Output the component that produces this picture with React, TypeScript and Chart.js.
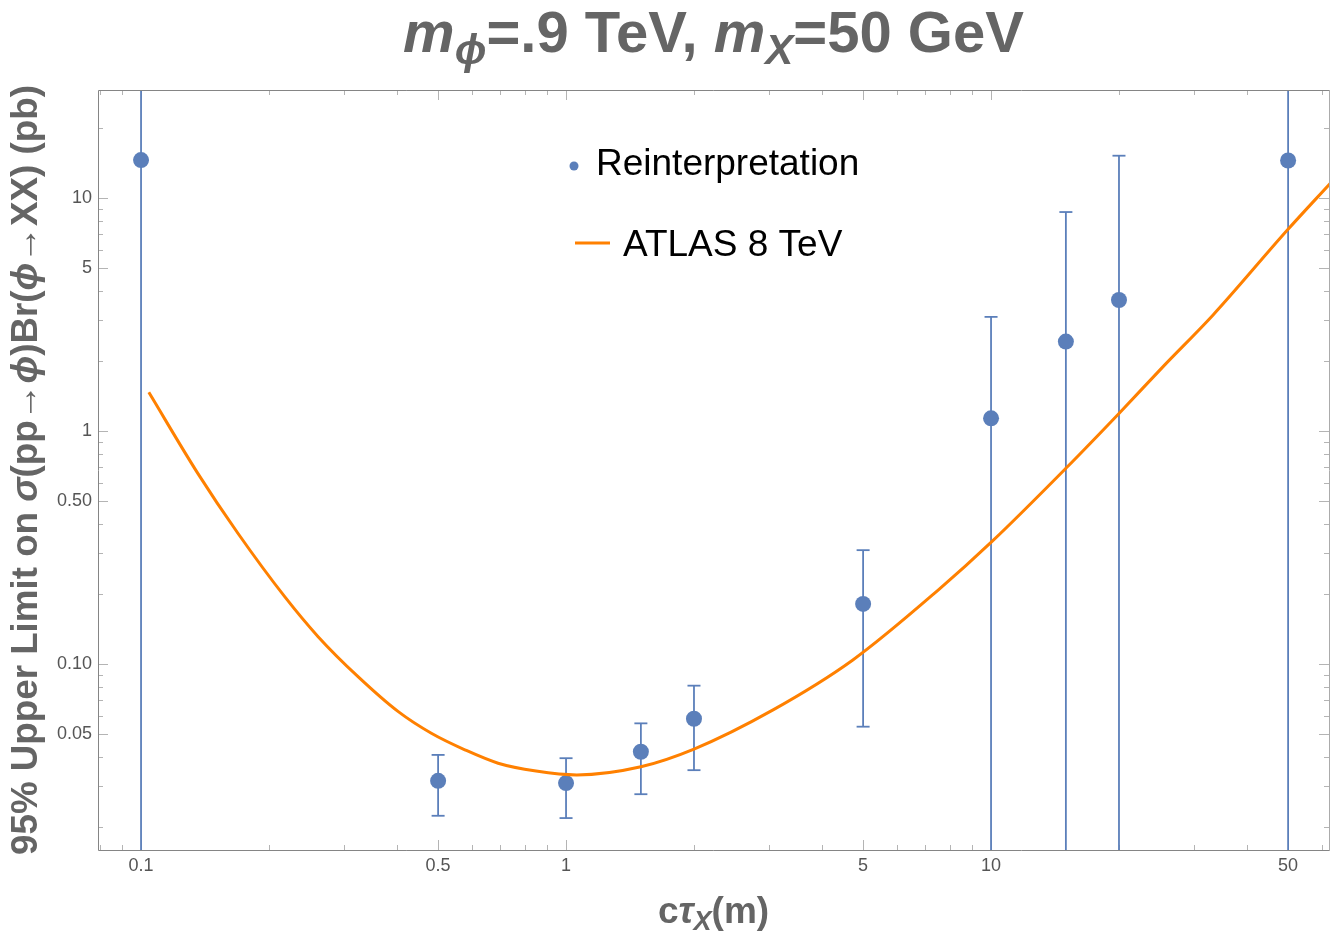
import React, { useEffect, useRef } from "react";
import { Chart, registerables } from "chart.js";

Chart.register(...registerables);

// Reinterpretation limits (pb) vs. proper decay length cτ (m)
const lifetimes = [0.1, 0.5, 1, 1.5, 2, 5, 10, 15, 20, 50];
const limits = [14.56, 0.0315, 0.0308, 0.042, 0.0582, 0.181, 1.134, 2.42, 3.65, 14.5];
const limitsUpper = [1000, 0.0407, 0.0394, 0.0556, 0.0807, 0.308, 3.09, 8.71, 15.2, 1000];
const limitsLower = [0.001, 0.0223, 0.0218, 0.0276, 0.035, 0.0538, 0.001, 0.001, 0.001, 0.001];

// ATLAS 8 TeV expected curve
const atlasLifetimes = [
  0.1043, 0.136, 0.169, 0.218, 0.261, 0.324, 0.403, 0.482, 0.578, 0.692, 0.85, 1.06, 1.5,
  2.0, 3.07, 4.73, 7.52, 10.04, 15.0, 20.0, 25.4, 33.3, 49.8, 62.8,
];
const atlasLimits = [
  1.466, 0.658, 0.364, 0.194, 0.131, 0.0882, 0.0624, 0.0504, 0.0428, 0.0375, 0.0347, 0.0334,
  0.0362, 0.0431, 0.0635, 0.104, 0.208, 0.335, 0.692, 1.19, 1.89, 3.15, 7.29, 11.56,
];

// Axis ranges and labelled ticks
const xMin = 0.0792;
const xMax = 62.4;
const yMin = 0.0159;
const yMax = 29.1;
const xMajorTicks = [0.1, 0.5, 1, 5, 10, 50];
const xMajorLabels = ["0.1", "0.5", "1", "5", "10", "50"];
const yMajorTicks = [0.05, 0.1, 0.5, 1, 5, 10];
const yMajorLabels = ["0.05", "0.10", "0.50", "1", "5", "10"];

const BLUE = "#5b7fba";
const ORANGE = "#ff8000";
const GRAY_TEXT = "#656565";
const FONT = '"Liberation Sans", Arial, Helvetica, sans-serif';

const near = (a: number, b: number) => Math.abs(Math.log10(a) - Math.log10(b)) < 1e-6;

function logTickValues(min: number, max: number, majors: number[]) {
  const out: number[] = [...majors];
  const e0 = Math.floor(Math.log10(min));
  const e1 = Math.ceil(Math.log10(max));
  for (let e = e0; e <= e1; e++) {
    for (let k = 1; k <= 9; k++) {
      const v = Number((k * Math.pow(10, e)).toPrecision(6));
      if (v >= min && v <= max && !out.some((m) => near(m, v))) out.push(v);
    }
  }
  return out.sort((a, b) => a - b);
}

function labelFor(value: number, majors: number[], labels: string[]) {
  const i = majors.findIndex((m) => near(m, value));
  return i >= 0 ? labels[i] : "";
}

type Seg = { t: string; italic?: boolean; sub?: boolean };

function segFont(s: Seg, size: number, bold: boolean) {
  const sz = s.sub ? Math.round(size * 0.72) : size;
  return `${s.italic ? "italic " : ""}${bold ? "bold " : ""}${sz}px ${FONT}`;
}

function richWidth(ctx: CanvasRenderingContext2D, segs: Seg[], size: number, bold: boolean) {
  let w = 0;
  for (const s of segs) {
    ctx.font = segFont(s, size, bold);
    w += ctx.measureText(s.t).width;
  }
  return w;
}

function drawRich(
  ctx: CanvasRenderingContext2D,
  segs: Seg[],
  x: number,
  y: number,
  size: number,
  color: string,
  bold: boolean,
) {
  const total = richWidth(ctx, segs, size, bold);
  let cx = x - total / 2;
  ctx.fillStyle = color;
  ctx.textBaseline = "alphabetic";
  ctx.textAlign = "left";
  for (const s of segs) {
    ctx.font = segFont(s, size, bold);
    ctx.fillText(s.t, cx, s.sub ? y + size * 0.2 : y);
    cx += ctx.measureText(s.t).width;
  }
}

const titleSegs: Seg[] = [
  { t: "m", italic: true },
  { t: "ϕ", italic: true, sub: true },
  { t: "=.9 TeV, " },
  { t: "m", italic: true },
  { t: "X", italic: true, sub: true },
  { t: "=50 GeV" },
];

const xTitleSegs: Seg[] = [
  { t: "c" },
  { t: "τ", italic: true },
  { t: "X", italic: true, sub: true },
  { t: "(m)" },
];

const yTitleSegs: Seg[] = [
  { t: "95% Upper Limit on " },
  { t: "σ", italic: true },
  { t: "(pp" },
  { t: "→" },
  { t: "ϕ", italic: true },
  { t: ")Br(" },
  { t: "ϕ", italic: true },
  { t: "→" },
  { t: "XX) (pb)" },
];

const decorPlugin = {
  id: "decor",
  beforeDatasetsDraw(chart: any) {
    const { ctx, chartArea: a, scales } = chart;
    const xs = scales.x;
    const ys = scales.y;
    ctx.save();

    // frame ticks on all four sides (beneath the data)
    ctx.strokeStyle = "#b4b4b4";
    ctx.lineWidth = 1;
    for (const t of xs.ticks) {
      const px = Math.round(xs.getPixelForValue(t.value)) + 0.5;
      const len = xMajorTicks.some((m) => near(m, t.value)) ? 10 : 5;
      ctx.beginPath();
      ctx.moveTo(px, a.bottom);
      ctx.lineTo(px, a.bottom - len);
      ctx.moveTo(px, a.top);
      ctx.lineTo(px, a.top + len);
      ctx.stroke();
    }
    for (const t of ys.ticks) {
      const py = Math.round(ys.getPixelForValue(t.value)) + 0.5;
      const len = yMajorTicks.some((m) => near(m, t.value)) ? 10 : 5;
      ctx.beginPath();
      ctx.moveTo(a.left, py);
      ctx.lineTo(a.left + len, py);
      ctx.moveTo(a.right, py);
      ctx.lineTo(a.right - len, py);
      ctx.stroke();
    }

    // error bars
    ctx.beginPath();
    ctx.rect(a.left, a.top, a.right - a.left, a.bottom - a.top);
    ctx.clip();
    ctx.strokeStyle = BLUE;
    ctx.lineWidth = 1.8;
    const cap = 6.5;
    lifetimes.forEach((lt, i) => {
      const px = xs.getPixelForValue(lt);
      const yHi = Math.max(ys.getPixelForValue(limitsUpper[i]), a.top - 2);
      const yLo = Math.min(ys.getPixelForValue(limitsLower[i]), a.bottom + 2);
      ctx.beginPath();
      ctx.moveTo(px, yHi);
      ctx.lineTo(px, yLo);
      ctx.stroke();
      for (const yy of [yHi, yLo]) {
        if (yy > a.top && yy < a.bottom) {
          ctx.beginPath();
          ctx.moveTo(px - cap, yy);
          ctx.lineTo(px + cap, yy);
          ctx.stroke();
        }
      }
    });
    ctx.restore();
  },
  afterDraw(chart: any) {
    const { ctx, chartArea: a } = chart;
    ctx.save();

    // frame
    ctx.lineWidth = 1;
    ctx.strokeStyle = "#858585";
    ctx.beginPath();
    ctx.moveTo(a.right, a.top + 0.5);
    ctx.lineTo(a.left + 0.5, a.top + 0.5);
    ctx.lineTo(a.left + 0.5, a.bottom + 0.5);
    ctx.lineTo(a.right, a.bottom + 0.5);
    ctx.stroke();
    ctx.strokeStyle = "#ababab";
    ctx.beginPath();
    ctx.moveTo(a.right + 0.5, a.top);
    ctx.lineTo(a.right + 0.5, a.bottom + 1);
    ctx.stroke();

    // title
    const cx = (a.left + a.right) / 2;
    drawRich(ctx, titleSegs, cx, 52, 58, GRAY_TEXT, true);

    // x-axis title
    drawRich(ctx, xTitleSegs, cx, 923, 37, GRAY_TEXT, true);

    // y-axis title, fitted to the frame height
    const targetLen = a.bottom - a.top + 10;
    const base = 37;
    const natural = richWidth(ctx, yTitleSegs, base, true);
    const ySize = (base * targetLen) / natural;
    ctx.save();
    ctx.translate(37, (a.top + a.bottom) / 2);
    ctx.rotate(-Math.PI / 2);
    drawRich(ctx, yTitleSegs, 0, 0, ySize, GRAY_TEXT, true);
    ctx.restore();

    // legend
    ctx.fillStyle = BLUE;
    ctx.beginPath();
    ctx.arc(574, 166, 4.5, 0, Math.PI * 2);
    ctx.fill();
    ctx.strokeStyle = ORANGE;
    ctx.lineWidth = 3;
    ctx.beginPath();
    ctx.moveTo(575, 243);
    ctx.lineTo(610, 243);
    ctx.stroke();
    ctx.fillStyle = "#000";
    ctx.font = `37px ${FONT}`;
    ctx.textAlign = "left";
    ctx.textBaseline = "alphabetic";
    ctx.fillText("Reinterpretation", 596, 175);
    ctx.fillText("ATLAS 8 TeV", 623, 256);

    ctx.restore();
  },
};

export default function App() {
  const ref = useRef<HTMLCanvasElement>(null);

  useEffect(() => {
    document.body.style.margin = "0";
    const canvas = ref.current;
    if (!canvas) return;

    const xTicks = logTickValues(xMin, xMax, xMajorTicks);
    const yTicks = logTickValues(yMin, yMax, yMajorTicks);

    const chart = new Chart(canvas, {
      type: "scatter",
      data: {
        datasets: [
          {
            label: "ATLAS 8 TeV",
            data: atlasLifetimes.map((x, i) => ({ x, y: atlasLimits[i] })),
            showLine: true,
            borderColor: ORANGE,
            backgroundColor: ORANGE,
            borderWidth: 3,
            pointRadius: 0,
            pointHoverRadius: 0,
            cubicInterpolationMode: "monotone",
            order: 0,
          },
          {
            label: "Reinterpretation",
            data: lifetimes.map((x, i) => ({ x, y: limits[i] })),
            backgroundColor: BLUE,
            borderWidth: 0,
            pointRadius: 8,
            pointHoverRadius: 8,
            order: 1,
          },
        ],
      },
      options: {
        responsive: false,
        animation: false,
        devicePixelRatio: 1,
        events: [],
        layout: { padding: { top: 90, right: 11, left: 0, bottom: 0 } },
        plugins: {
          legend: { display: false },
          title: { display: false },
          tooltip: { enabled: false },
        },
        scales: {
          x: {
            type: "logarithmic",
            min: xMin,
            max: xMax,
            grid: { display: false, drawTicks: false },
            border: { display: false },
            afterBuildTicks: (scale: any) => {
              scale.ticks = xTicks.map((v) => ({ value: v }));
            },
            afterFit: (scale: any) => {
              scale.height = 88;
            },
            ticks: {
              autoSkip: false,
              maxRotation: 0,
              minRotation: 0,
              padding: 5,
              color: "#555",
              font: { family: FONT, size: 18 },
              callback: (value: any) => labelFor(Number(value), xMajorTicks, xMajorLabels),
            },
          },
          y: {
            type: "logarithmic",
            min: yMin,
            max: yMax,
            grid: { display: false, drawTicks: false },
            border: { display: false },
            afterBuildTicks: (scale: any) => {
              scale.ticks = yTicks.map((v) => ({ value: v }));
            },
            afterFit: (scale: any) => {
              scale.width = 98;
            },
            ticks: {
              autoSkip: false,
              padding: 6,
              color: "#555",
              font: { family: FONT, size: 18 },
              callback: (value: any) => labelFor(Number(value), yMajorTicks, yMajorLabels),
            },
          },
        },
      },
      plugins: [decorPlugin],
    });

    return () => chart.destroy();
  }, []);

  return (
    <div style={{ position: "absolute", left: 0, top: 0, width: 1340, height: 938 }}>
      <canvas ref={ref} width={1340} height={938} style={{ display: "block", width: 1340, height: 938 }} />
    </div>
  );
}
